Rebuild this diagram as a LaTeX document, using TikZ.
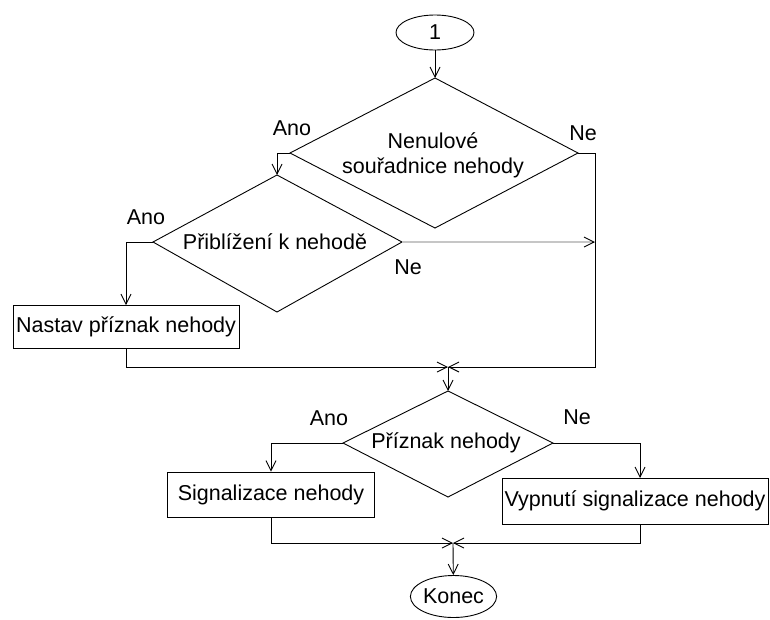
\documentclass[tikz,border=0pt]{standalone}
\usepackage{fontspec}
\setmainfont{Liberation Sans}
\usetikzlibrary{arrows.meta,shapes.geometric}
\begin{document}
\begin{tikzpicture}[x=1pt,y=-1pt,line width=0.9pt,
  >={Straight Barb[length=10pt,width=10pt]},
  lbl/.style={font=\fontsize{21.5}{25}\selectfont, inner sep=0pt, align=center},
  proc/.style={draw, lbl, inner sep=0pt},
  term/.style={draw, ellipse, lbl, inner sep=0pt},
  dec/.style={draw, line join=miter},
  flow/.style={->}]
\useasboundingbox (0,0) rectangle (770,619);

% start
\node[term, minimum width=78pt, minimum height=35pt] (start) at (435,32.5) {1};

% decision 1
\coordinate (d1t) at (435,78);
\coordinate (d1l) at (290,153);
\coordinate (d1r) at (578,153);
\coordinate (d1b) at (435,228);
\draw[dec] (d1t)--(d1r)--(d1b)--(d1l)--cycle;
\node[lbl] (d1) at (433,155) {Nenulové\\souřadnice nehody};

% decision 2
\coordinate (d2t) at (277,175);
\coordinate (d2l) at (153,242);
\coordinate (d2r) at (402,242);
\coordinate (d2b) at (277,312);
\draw[dec] (d2t)--(d2r)--(d2b)--(d2l)--cycle;
\node[lbl] (d2) at (275,242) {Přiblížení k nehodě};

% box 1
\node[proc, minimum width=226pt, minimum height=43pt] (b1) at (126,327) {Nastav příznak nehody};

% junction 1
\coordinate (j1) at (448,367);
\coordinate (cR) at (595,367);

% decision 3
\coordinate (d3t) at (448,391);
\coordinate (d3l) at (343,443);
\coordinate (d3r) at (553,443);
\coordinate (d3b) at (448,497);
\draw[dec] (d3t)--(d3r)--(d3b)--(d3l)--cycle;
\node[lbl] (d3) at (446,443) {Příznak nehody};

% boxes 2 and 3
\node[proc, minimum width=207pt, minimum height=45pt] (b2) at (271,494.5) {Signalizace nehody};
\node[proc, minimum width=266pt, minimum height=46pt] (b3) at (635,501) {Vypnutí signalizace nehody};
\coordinate (b3n) at (640,478);
\coordinate (b3s) at (640,524);

% junction 2 and end
\coordinate (j2) at (453,543);
\node[term, minimum width=77pt, minimum height=42pt] (end) at (453.5,596.5) {Konec};

% connectors
\draw[flow] (start) -- (d1t);
\draw[flow] (d1l) -| (d2t);
\draw[flow] (d1r) -| (cR) -- (j1);
\draw[gray!45, line width=2.2pt] (d2r) -- ([xshift=-2pt]d2r -| cR);
\draw[flow] ([xshift=-3pt]d2r -| cR) -- (d2r -| cR);
\draw[flow] (d2l) -| (b1.north);
\draw[flow] (b1.south) |- (j1);
\draw[flow] (j1) -- (d3t);
\draw[flow] (d3l) -| (b2.north);
\draw[flow] (d3r) -| (b3n);
\draw[flow] (b2.south) |- (j2);
\draw[flow] (b3s) |- (j2);
\draw[flow] (j2) -- (end);

% labels
\node[lbl] (a1) at (292,128) {Ano};
\node[lbl] (n1) at (583,133) {Ne};
\node[lbl] (a2) at (146,217) {Ano};
\node[lbl] (n2) at (408,267) {Ne};
\node[lbl] (a3) at (329,418) {Ano};
\node[lbl] (n3) at (577,417) {Ne};
\end{tikzpicture}
\end{document}
